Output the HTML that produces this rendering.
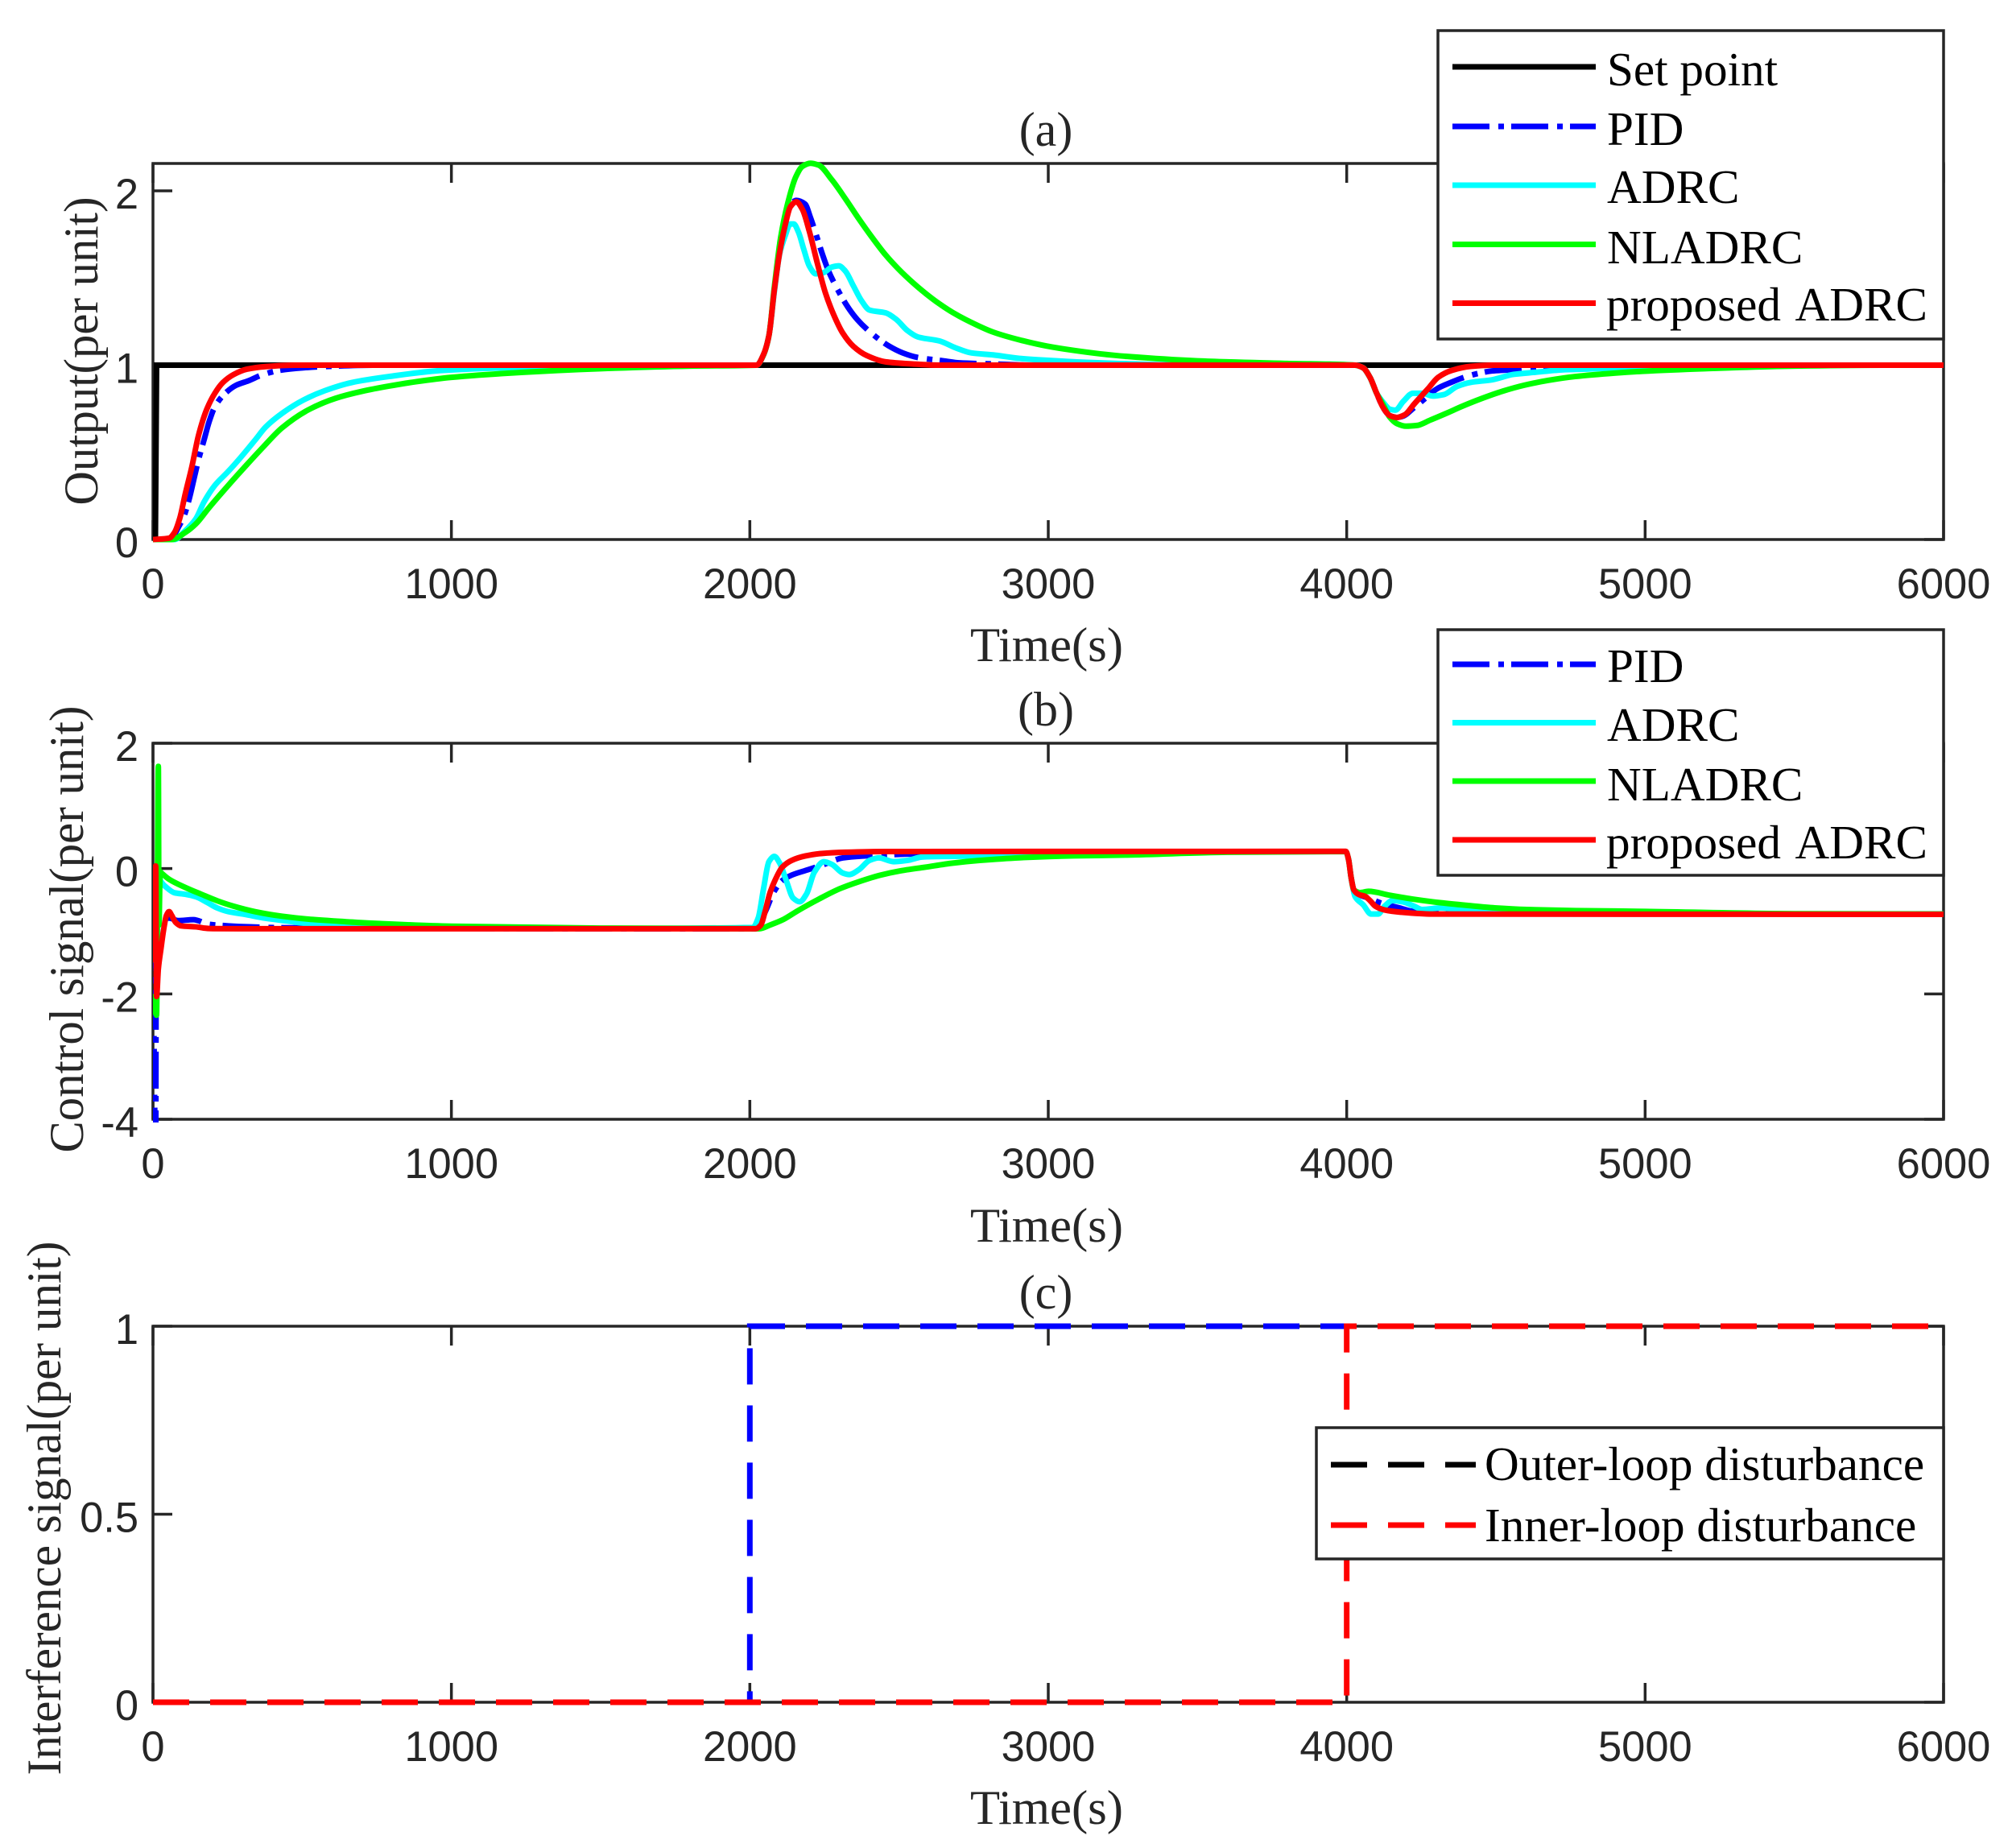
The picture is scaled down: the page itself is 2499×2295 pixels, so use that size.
<!DOCTYPE html>
<html lang="en">
<head>
<meta charset="utf-8">
<title>Output, control and interference signals</title>
<style>
html,body{margin:0;padding:0;background:#fff}
svg{display:block}
.serif{font-family:"Liberation Serif",serif;font-size:59.2px;fill:#000}
.axis-text{font-family:"Liberation Serif",serif;font-size:60px;fill:#262626}
.tick{font-family:"Liberation Sans",sans-serif;font-size:53px;fill:#262626}
</style>
</head>
<body>
<svg id="chart" xmlns="http://www.w3.org/2000/svg" width="2499" height="2295" viewBox="0 0 2499 2295">
<rect width="2499" height="2295" fill="#fff"/>
<g id="panels"></g>

<text class="axis-text" x="1299" y="181" text-anchor="middle">(a)</text>
<text class="axis-text" x="1300" y="821" text-anchor="middle" textLength="190" lengthAdjust="spacingAndGlyphs">Time(s)</text>
<text class="axis-text" transform="translate(121,436) rotate(-90)" text-anchor="middle" textLength="383" lengthAdjust="spacingAndGlyphs">Output(per unit)</text>

<text class="axis-text" x="1299" y="901" text-anchor="middle">(b)</text>
<text class="axis-text" x="1300" y="1542" text-anchor="middle" textLength="190" lengthAdjust="spacingAndGlyphs">Time(s)</text>
<text class="axis-text" transform="translate(103,1154) rotate(-90)" text-anchor="middle" textLength="555" lengthAdjust="spacingAndGlyphs">Control signal(per unit)</text>

<text class="axis-text" x="1299" y="1625" text-anchor="middle">(c)</text>
<text class="axis-text" x="1300" y="2265" text-anchor="middle" textLength="190" lengthAdjust="spacingAndGlyphs">Time(s)</text>
<text class="axis-text" transform="translate(75,1873) rotate(-90)" text-anchor="middle" textLength="663" lengthAdjust="spacingAndGlyphs">Interference signal(per unit)</text>

<g>
  <rect x="1786" y="38" width="628" height="383" fill="#fff" stroke="#262626" stroke-width="3.5"/>
  <line x1="1804" x2="1982" y1="83" y2="83" stroke="#000" stroke-width="7"/>
  <text class="serif" x="1996" y="106">Set point</text>
  <line x1="1804" x2="1982" y1="157" y2="157" stroke="#00f" stroke-width="7" stroke-dasharray="46 11 7 9"/>
  <text class="serif" x="1996" y="180">PID</text>
  <line x1="1804" x2="1982" y1="230" y2="230" stroke="#0ff" stroke-width="7"/>
  <text class="serif" x="1996" y="252">ADRC</text>
  <line x1="1804" x2="1982" y1="303.5" y2="303.5" stroke="#0f0" stroke-width="7"/>
  <text class="serif" x="1996" y="327">NLADRC</text>
  <line x1="1804" x2="1982" y1="376.5" y2="376.5" stroke="#f00" stroke-width="7"/>
  <text class="serif" x="1995" y="398" word-spacing="6">proposed ADRC</text>
</g>

<g>
  <rect x="1786" y="782" width="628" height="305" fill="#fff" stroke="#262626" stroke-width="3.5"/>
  <line x1="1804" x2="1982" y1="825" y2="825" stroke="#00f" stroke-width="7" stroke-dasharray="46 11 7 9"/>
  <text class="serif" x="1996" y="847">PID</text>
  <line x1="1804" x2="1982" y1="897.5" y2="897.5" stroke="#0ff" stroke-width="7"/>
  <text class="serif" x="1996" y="920">ADRC</text>
  <line x1="1804" x2="1982" y1="970" y2="970" stroke="#0f0" stroke-width="7"/>
  <text class="serif" x="1996" y="994">NLADRC</text>
  <line x1="1804" x2="1982" y1="1043" y2="1043" stroke="#f00" stroke-width="7"/>
  <text class="serif" x="1995" y="1066" word-spacing="6">proposed ADRC</text>
</g>

<g>
  <rect x="1635" y="1773" width="779" height="163" fill="#fff" stroke="#262626" stroke-width="3.5"/>
  <line x1="1653" x2="1833" y1="1819" y2="1819" stroke="#000" stroke-width="7" stroke-dasharray="45 26"/>
  <text class="serif" x="1844" y="1838">Outer-loop disturbance</text>
  <line x1="1653" x2="1833" y1="1894" y2="1894" stroke="#f00" stroke-width="7" stroke-dasharray="45 26"/>
  <text class="serif" x="1844" y="1914">Inner-loop disturbance</text>
</g>
</svg>

<script>
// ---- shared axis data ----
const xTicks = [0, 1000, 2000, 3000, 4000, 5000, 6000];
const xTickLabels = ['0', '1000', '2000', '3000', '4000', '5000', '6000'];
const xDomain = [0, 6000];

// ---- panel (a) output ----
const aYDomain = [0, 2.157];
const aYTicks = [0, 1, 2];
const aYTickLabels = ['0', '1', '2'];
const aSetPointT = [0, 8, 12, 6000];
const aSetPointV = [0, 0, 1, 1];
const aPidT = [0,50,72,85,103,121,139,153,171,189,207,243,279,319,364,423,504,575,737,2023,2046,2064,2082,2100,2118,2136,2156,2185,2203,2221,2244,2262,2284,2329,2360,2401,2464,2513,2563,2653,2702,2815,2950,4028,4055,4078,4100,4123,4145,4168,4190,4222,4262,4303,4348,4388,4437,4487,4541,4622,4676,4800,6000];
const aPidV = [0,0,.03,.07,.13,.23,.36,.46,.57,.68,.76,.84,.885,.91,.943,.97,.985,.992,1,1,1.06,1.17,1.43,1.65,1.81,1.92,1.945,1.924,1.847,1.755,1.632,1.547,1.467,1.332,1.262,1.193,1.112,1.07,1.044,1.024,1.013,1.007,1,1,.985,.93,.84,.754,.71,.7,.708,.751,.808,.865,.9,.927,.951,.967,.973,.985,.993,1,1];
const aAdrcT = [0,72,108,144,171,207,252,297,342,378,432,504,576,665,791,971,1300,1700,2023,2046,2064,2082,2100,2118,2136,2147,2163,2181,2199,2221,2248,2275,2298,2320,2347,2374,2401,2455,2491,2527,2563,2635,2689,2743,2815,2904,2994,3129,3264,3500,4028,4055,4078,4100,4123,4145,4163,4190,4222,4253,4289,4325,4370,4415,4487,4559,4631,4721,4811,5000,5300,6000];
const aAdrcV = [0,0,.05,.12,.215,.31,.39,.477,.57,.646,.723,.8,.854,.9,.935,.97,.99,1,1,1.06,1.17,1.42,1.64,1.74,1.81,1.81,1.763,1.663,1.57,1.524,1.532,1.563,1.57,1.54,1.455,1.37,1.316,1.3,1.262,1.2,1.162,1.139,1.1,1.07,1.059,1.039,1.028,1.016,1.008,1,1,.985,.93,.84,.785,.747,.742,.793,.839,.839,.823,.831,.878,.901,.916,.947,.959,.973,.978,.99,1,1];
const aNladrcT = [0,63,108,144,189,252,315,369,432,522,612,701,791,881,1000,1200,1500,1800,2023,2046,2064,2082,2104,2131,2154,2176,2203,2230,2275,2320,2365,2410,2455,2500,2545,2590,2635,2680,2725,2815,2904,2994,3084,3174,3264,3500,3800,4028,4055,4078,4100,4123,4145,4168,4199,4235,4280,4334,4388,4451,4523,4595,4676,4766,4901,4991,5200,5500,5800,6000];
const aNladrcV = [0,0,.04,.09,.185,.31,.43,.53,.64,.745,.81,.85,.88,.905,.93,.955,.98,.995,1,1.06,1.17,1.447,1.74,1.955,2.08,2.14,2.158,2.148,2.063,1.955,1.84,1.732,1.632,1.548,1.475,1.41,1.352,1.302,1.26,1.19,1.145,1.11,1.085,1.065,1.05,1.025,1.01,1,.985,.93,.84,.77,.7,.665,.65,.654,.685,.724,.765,.808,.851,.885,.913,.935,.955,.965,.98,.995,1,1];
const aProposedT = [0,54,72,90,108,130,153,180,207,234,270,315,378,477,2023,2046,2064,2082,2100,2118,2136,2156,2176,2199,2226,2253,2280,2311,2347,2392,2455,2545,2635,4028,4055,4078,4100,4123,4145,4168,4195,4226,4271,4307,4352,4415,4487,6000];
const aProposedV = [0,.008,.04,.123,.26,.415,.6,.746,.838,.9,.946,.977,.992,1,1,1.062,1.17,1.43,1.647,1.8,1.909,1.937,1.894,1.77,1.586,1.416,1.293,1.185,1.108,1.055,1.019,1.007,1,1,.985,.93,.84,.754,.71,.7,.716,.777,.862,.931,.97,.993,1,1];

// ---- panel (b) control signal ----
const bYDomain = [-4, 2];
const bYTicks = [-4, -2, 0, 2];
const bYTickLabels = ['-4', '-2', '0', '2'];
const bPidT = [0,9,11,54,85,135,189,252,324,432,1000,2019,2050,2082,2109,2140,2194,2248,2311,2378,2455,2518,2635,3000,3997,4006,4015,4024,4042,4073,4118,4177,4226,4271,4361,4600,5000,6000];
const bPidV = [-1,-4.6,-.85,-.79,-.83,-.815,-.89,-.914,-.93,-.944,-.955,-.96,-.705,-.36,-.19,-.105,-.02,.066,.17,.2,.216,.23,.24,.27,.272,.15,-.148,-.34,-.417,-.47,-.555,-.627,-.683,-.662,-.696,-.71,-.72,-.726];
const bAdrcT = [0,12,20,25,45,72,108,144,180,216,252,306,378,450,522,656,1000,1500,2010,2028,2046,2064,2082,2100,2122,2145,2167,2190,2216,2248,2275,2311,2333,2365,2401,2432,2482,2527,2581,2680,2815,3000,3264,3500,3997,4006,4015,4028,4055,4082,4105,4127,4154,4190,4226,4253,4316,4379,4505,5000,5400,6000];
const bAdrcV = [-1,-1.5,-.1,-.19,-.3,-.386,-.41,-.45,-.536,-.63,-.687,-.73,-.794,-.837,-.88,-.923,-.95,-.955,-.94,-.79,-.32,.11,.195,.088,-.19,-.47,-.53,-.405,-.06,.11,.067,-.07,-.096,-.02,.13,.17,.11,.13,.186,.195,.207,.25,.265,.27,.272,.15,-.148,-.447,-.576,-.726,-.726,-.6,-.51,-.533,-.6,-.653,-.627,-.662,-.683,-.715,-.726,-.726];
const bNladrcT = [0,12,18,20,24,27,54,108,162,216,270,342,432,522,612,701,1000,1500,2032,2068,2113,2158,2230,2302,2365,2437,2500,2590,2680,2770,2904,3084,3264,3600,3997,4006,4015,4024,4046,4073,4145,4226,4316,4406,4496,4604,4766,5000,5500,6000];
const bNladrcV = [-2,-2.34,1.63,-.9,-.05,-.064,-.17,-.3,-.41,-.515,-.6,-.687,-.76,-.807,-.837,-.863,-.92,-.95,-.96,-.9,-.81,-.68,-.49,-.32,-.21,-.105,-.04,.024,.087,.13,.173,.203,.216,.26,.272,.15,-.148,-.34,-.383,-.362,-.426,-.49,-.546,-.589,-.627,-.653,-.67,-.683,-.72,-.726];
const bProposedT = [0,9,12,18,27,36,45,54,63,76,94,144,189,297,2019,2037,2050,2068,2086,2109,2140,2185,2239,2320,2455,3997,4006,4015,4024,4042,4060,4078,4096,4127,4181,4289,6000];
const bProposedV = [-1.5,.04,-2.04,-1.6,-1.27,-.966,-.75,-.687,-.75,-.858,-.914,-.93,-.957,-.96,-.96,-.9,-.705,-.38,-.17,.024,.13,.2,.24,.26,.272,.275,.15,-.148,-.34,-.417,-.44,-.51,-.6,-.66,-.696,-.726,-.73];

// ---- panel (c) interference signal ----
const cYDomain = [0, 1];
const cYTicks = [0, 0.5, 1];
const cYTickLabels = ['0', '0.5', '1'];
const cOuterT = [0, 2000, 2000, 6000];
const cOuterV = [0, 0, 1, 1];
const cInnerT = [0, 4000, 4000, 6000];
const cInnerV = [0, 0, 1, 1];

const SVG_NS = 'http://www.w3.org/2000/svg';
const BOX_L = 190, BOX_R = 2414;
const root = document.getElementById('panels');

function xScale(t) {
  return BOX_L + (t - xDomain[0]) / (xDomain[1] - xDomain[0]) * (BOX_R - BOX_L);
}
function makeYScale(domain, top, bottom) {
  return function (v) {
    return bottom - (v - domain[0]) / (domain[1] - domain[0]) * (bottom - top);
  };
}
function el(tag, attrs, parent) {
  const node = document.createElementNS(SVG_NS, tag);
  for (const k in attrs) node.setAttribute(k, attrs[k]);
  parent.appendChild(node);
  return node;
}
function linePath(ts, vs, y) {
  return ts.map(function (t, i) {
    return (i ? 'L' : 'M') + xScale(t).toFixed(2) + ' ' + y(vs[i]).toFixed(2);
  }).join('');
}
// monotone cubic through the read values: no overshoot at corners and peaks
function smoothPath(ts, vs, y) {
  const xs = ts.map(xScale), ys = vs.map(y), n = xs.length;
  const sec = [], m = [];
  for (let i = 0; i < n - 1; i++) sec.push((ys[i + 1] - ys[i]) / (xs[i + 1] - xs[i]));
  for (let i = 0; i < n; i++) {
    if (i === 0) m.push(sec[0]);
    else if (i === n - 1) m.push(sec[n - 2]);
    else if (sec[i - 1] * sec[i] <= 0) m.push(0);
    else {
      const h0 = xs[i] - xs[i - 1], h1 = xs[i + 1] - xs[i];
      m.push((h0 + h1) * 3 / ((2 * h1 + h0) / sec[i - 1] + (2 * h0 + h1) / sec[i]));
    }
  }
  let d = 'M' + xs[0].toFixed(2) + ' ' + ys[0].toFixed(2);
  for (let i = 0; i < n - 1; i++) {
    const h = (xs[i + 1] - xs[i]) / 3;
    d += 'C' + (xs[i] + h).toFixed(2) + ' ' + (ys[i] + m[i] * h).toFixed(2) + ' ' +
      (xs[i + 1] - h).toFixed(2) + ' ' + (ys[i + 1] - m[i + 1] * h).toFixed(2) + ' ' +
      xs[i + 1].toFixed(2) + ' ' + ys[i + 1].toFixed(2);
  }
  return d;
}
function drawAxes(panel, top, bottom, y, yTicks, yLabels) {
  const g = el('g', {}, root);
  
  
  const box = el('rect', { x: BOX_L, y: top, width: BOX_R - BOX_L, height: bottom - top, fill: 'none', stroke: '#262626', 'stroke-width': 3.5 }, g);
  
  
  xTicks.forEach(function (t, i) {
    const x = xScale(t);
    const tick = el('path', { d: 'M' + x + ' ' + bottom + 'v-24M' + x + ' ' + top + 'v24', stroke: '#262626', 'stroke-width': 3.5, fill: 'none' }, g);
    
    
    const label = el('text', { class: 'tick', 'text-anchor': 'middle', transform: 'translate(' + x + ',' + (bottom + 73) + ') scale(.99,1)' }, g);
    label.textContent = xTickLabels[i];
    
    
  });
  yTicks.forEach(function (v, i) {
    const py = y(v);
    const tick = el('path', { d: 'M' + BOX_L + ' ' + py + 'h24M' + BOX_R + ' ' + py + 'h-24', stroke: '#262626', 'stroke-width': 3.5, fill: 'none' }, g);
    
    
    const label = el('text', { class: 'tick', 'text-anchor': 'end', transform: 'translate(172,' + (py + 22) + ') scale(.99,1)' }, g);
    label.textContent = yLabels[i];
    
    
  });
  const defs = el('defs', {}, g);
  const clip = el('clipPath', { id: 'clip-' + panel }, defs);
  el('rect', { x: BOX_L, y: top - 4, width: BOX_R - BOX_L, height: bottom - top + 8 }, clip);
}
function drawSeries(panel, d, color, dash, width, name) {
  const p = el('path', { d: d, fill: 'none', stroke: color, 'stroke-width': width, 'clip-path': 'url(#clip-' + panel + ')' }, root);
  if (dash) p.setAttribute('stroke-dasharray', dash);
  
  
}

const DASH_DOT = '46 11 7 9';
const DASHED = '45 26';

// panel (a)
const yA = makeYScale(aYDomain, 203, 670);
drawAxes('a', 203, 670, yA, aYTicks, aYTickLabels);
drawSeries('a', linePath(aSetPointT, aSetPointV, yA), '#000', null, 7, 'output-series-set-point');
drawSeries('a', smoothPath(aPidT, aPidV, yA), '#00f', DASH_DOT, 7, 'output-series-pid');
drawSeries('a', smoothPath(aAdrcT, aAdrcV, yA), '#0ff', null, 7, 'output-series-adrc');
drawSeries('a', smoothPath(aNladrcT, aNladrcV, yA), '#0f0', null, 7, 'output-series-nladrc');
drawSeries('a', smoothPath(aProposedT, aProposedV, yA), '#f00', null, 7, 'output-series-proposed-adrc');

// panel (b)
const yB = makeYScale(bYDomain, 923, 1390);
drawAxes('b', 923, 1390, yB, bYTicks, bYTickLabels);
drawSeries('b', smoothPath(bPidT, bPidV, yB), '#00f', DASH_DOT, 7, 'control-series-pid');
drawSeries('b', smoothPath(bAdrcT, bAdrcV, yB), '#0ff', null, 7, 'control-series-adrc');
drawSeries('b', smoothPath(bNladrcT, bNladrcV, yB), '#0f0', null, 7, 'control-series-nladrc');
drawSeries('b', smoothPath(bProposedT, bProposedV, yB), '#f00', null, 7, 'control-series-proposed-adrc');

// panel (c)
const yC = makeYScale(cYDomain, 1647, 2114);
drawAxes('c', 1647, 2114, yC, cYTicks, cYTickLabels);
drawSeries('c', linePath(cOuterT, cOuterV, yC), '#00f', DASHED, 7, 'interference-series-outer-loop');
drawSeries('c', linePath(cInnerT, cInnerV, yC), '#f00', DASHED, 7, 'interference-series-inner-loop');
</script>
</body>
</html>
